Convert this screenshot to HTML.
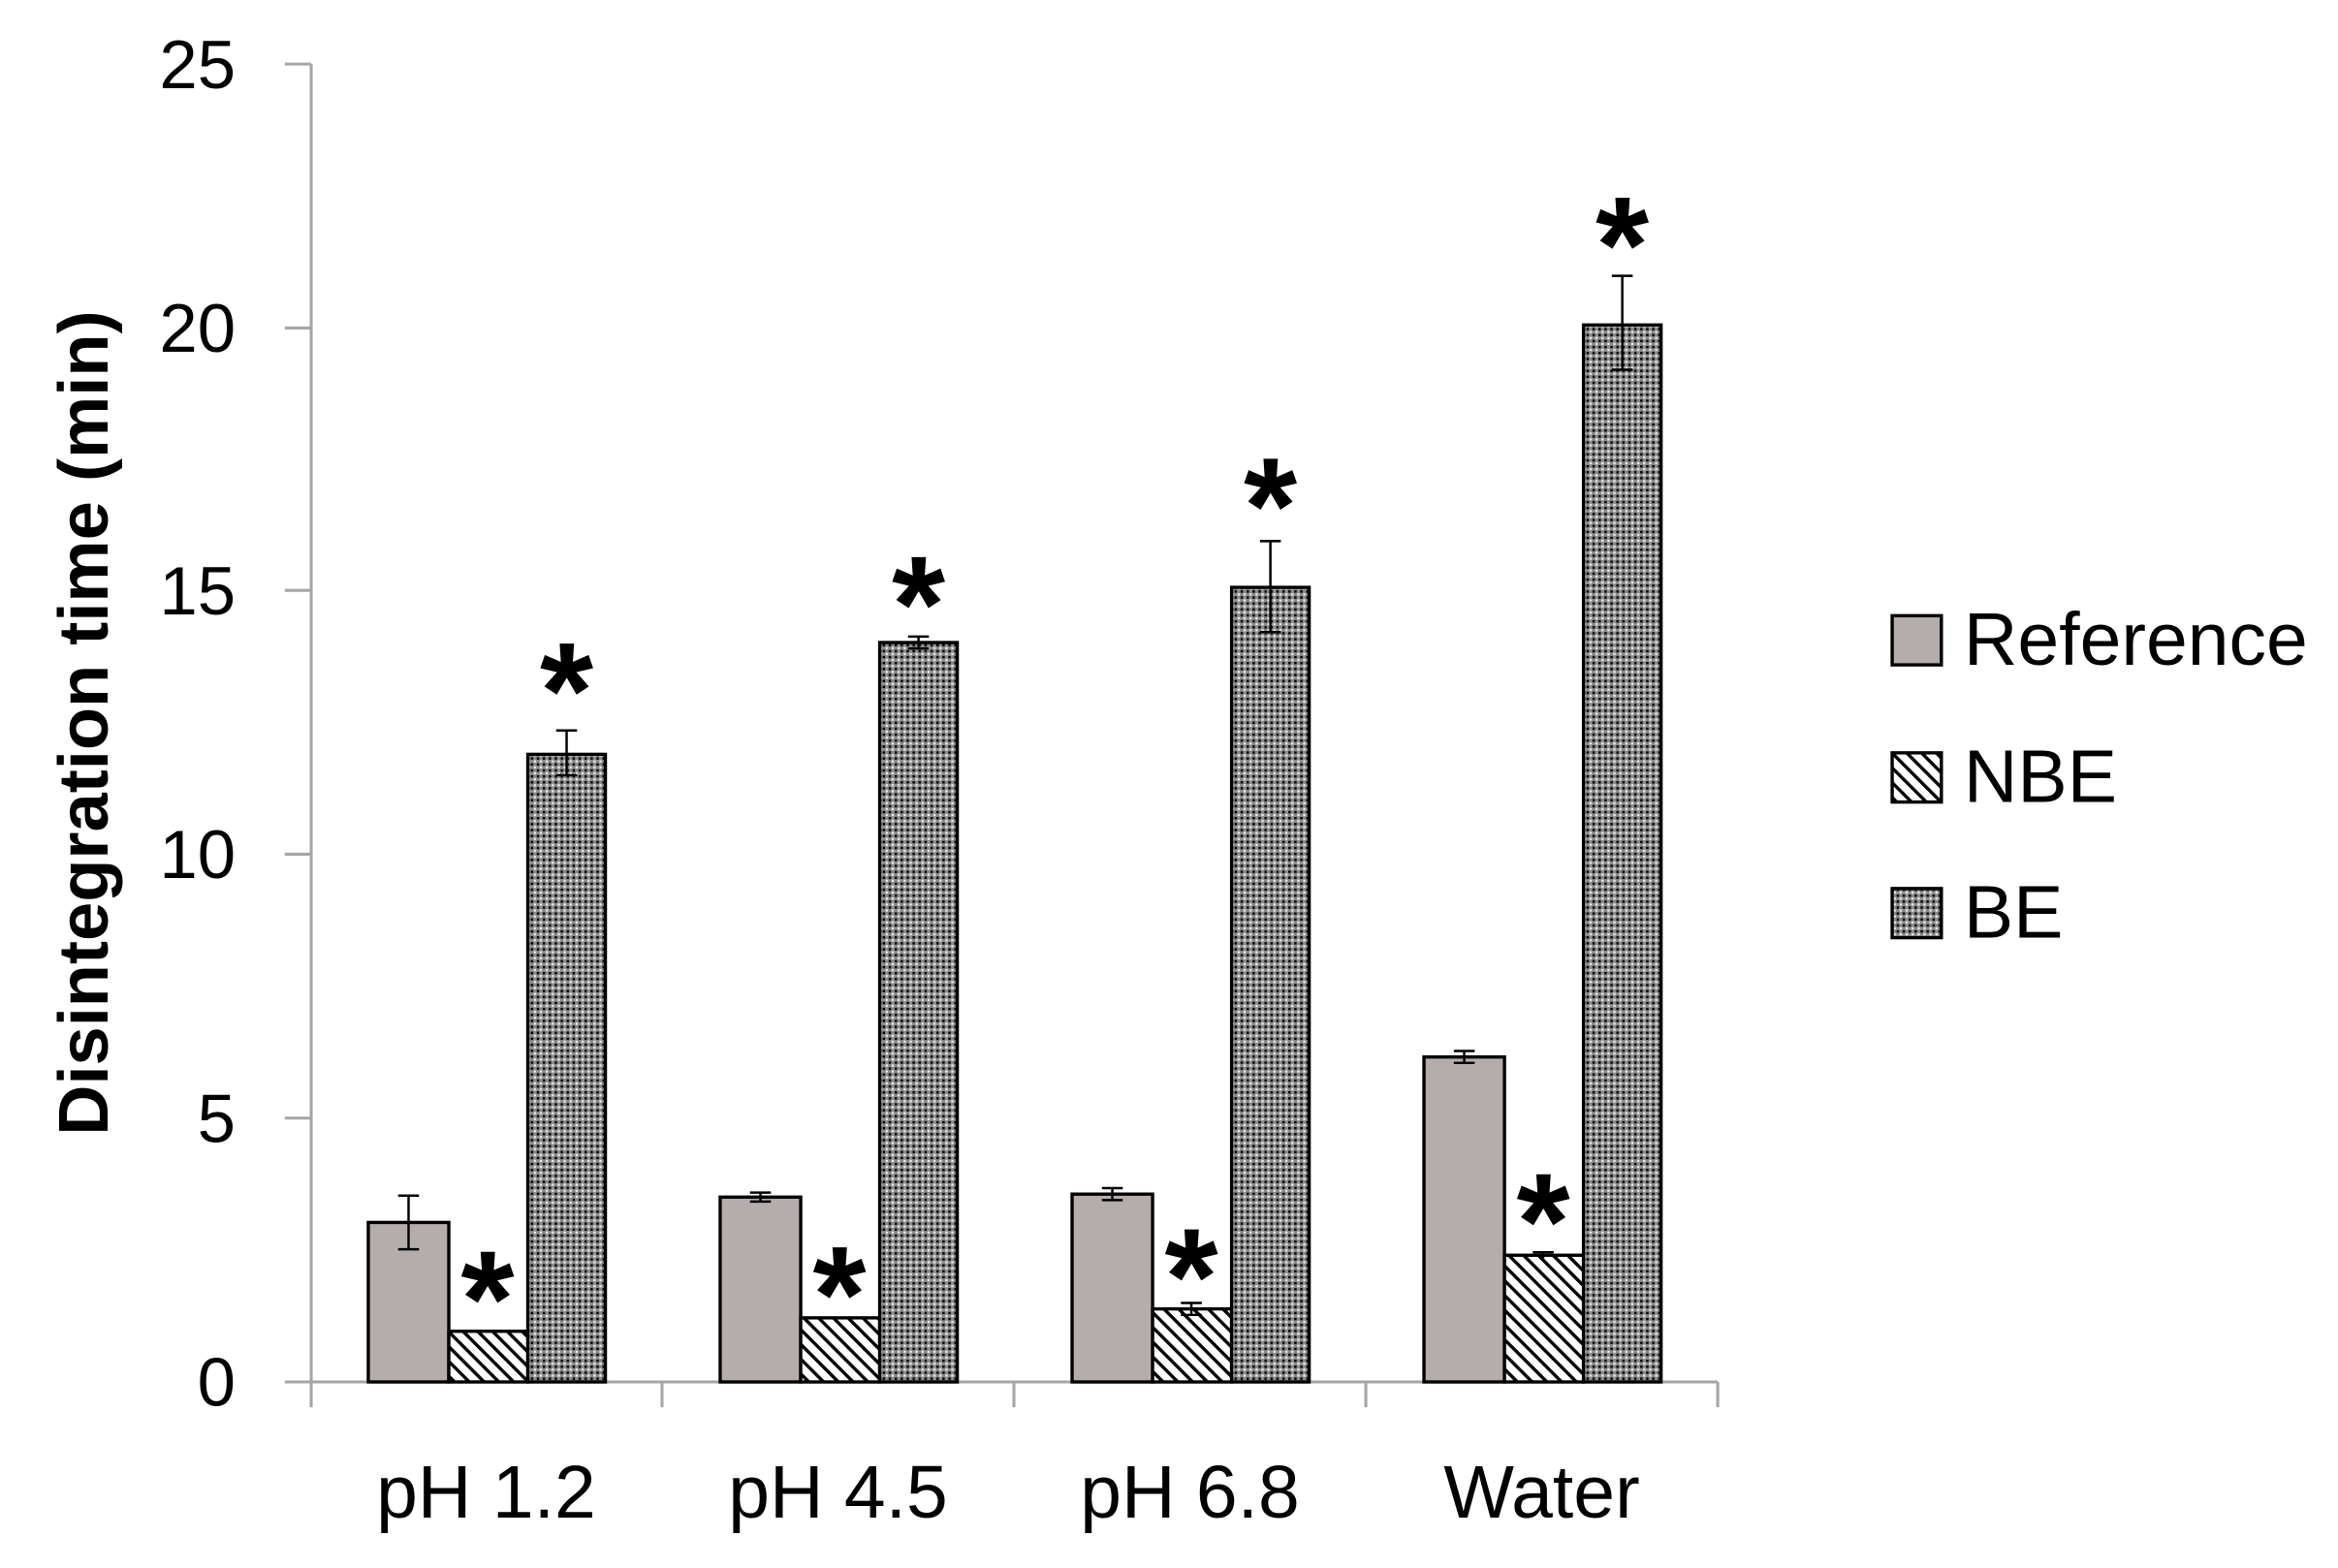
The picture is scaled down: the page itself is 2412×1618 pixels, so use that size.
<!DOCTYPE html>
<html><head><style>html,body{margin:0;padding:0;background:#fff}svg{display:block}</style></head>
<body>
<svg width="2412" height="1618" viewBox="0 0 1568 1051.8" preserveAspectRatio="none" xmlns="http://www.w3.org/2000/svg" font-family="'Liberation Sans', 'DejaVu Sans', sans-serif">
<defs>
<pattern id="hatch" width="7" height="7" patternUnits="userSpaceOnUse" patternTransform="rotate(-45)">
<rect width="7" height="7" fill="#fff"/><rect x="0" y="0" width="2.2" height="7" fill="#000"/>
</pattern>
<pattern id="dots" width="4" height="4" patternUnits="userSpaceOnUse">
<rect width="4" height="4" fill="#8a8a8a"/><rect x="0" y="0" width="1.6" height="1.6" fill="#000"/><rect x="2" y="2" width="1.5" height="1.5" fill="#eee"/>
</pattern>
</defs>
<rect width="1568" height="1052" fill="#fff"/>
<g stroke="#a6a6a6" stroke-width="2" fill="none">
<line x1="208.7" y1="43" x2="208.7" y2="927"/>
<line x1="208.7" y1="927" x2="1152" y2="927"/>
<line x1="191" y1="43" x2="208.7" y2="43"/>
<line x1="191" y1="220" x2="208.7" y2="220"/>
<line x1="191" y1="396" x2="208.7" y2="396"/>
<line x1="191" y1="573" x2="208.7" y2="573"/>
<line x1="191" y1="750" x2="208.7" y2="750"/>
<line x1="191" y1="927" x2="208.7" y2="927"/>
<line x1="208.7" y1="927" x2="208.7" y2="944"/>
<line x1="444" y1="927" x2="444" y2="944"/>
<line x1="680" y1="927" x2="680" y2="944"/>
<line x1="916" y1="927" x2="916" y2="944"/>
<line x1="1152" y1="927" x2="1152" y2="944"/>
</g>
<g font-size="46" text-anchor="end" fill="#000">
<text x="158" y="59">25</text><text x="158" y="236">20</text><text x="158" y="412">15</text>
<text x="158" y="589">10</text><text x="158" y="766">5</text><text x="158" y="943">0</text>
</g>
<text transform="translate(72,485) rotate(-90)" font-size="47" font-weight="bold" text-anchor="middle">Disintegration time (min)</text>
<g font-size="50" text-anchor="middle">
<text x="326" y="1018">pH 1.2</text><text x="562" y="1018">pH 4.5</text><text x="798" y="1018">pH 6.8</text><text x="1034" y="1018">Water</text>
</g>
<g stroke="#000" stroke-width="2.2">
<rect x="247" y="820" width="54" height="107" fill="#b3aeab"/>
<rect x="301" y="893" width="53" height="34" fill="url(#hatch)"/>
<rect x="354" y="506" width="52" height="421" fill="url(#dots)"/>
<rect x="483" y="803" width="54" height="124" fill="#b3aeab"/>
<rect x="537" y="884" width="53" height="43" fill="url(#hatch)"/>
<rect x="590" y="431" width="52" height="496" fill="url(#dots)"/>
<rect x="719" y="801" width="54" height="126" fill="#b3aeab"/>
<rect x="773" y="878" width="53" height="49" fill="url(#hatch)"/>
<rect x="826" y="394" width="52" height="533" fill="url(#dots)"/>
<rect x="955" y="709" width="54" height="218" fill="#b3aeab"/>
<rect x="1009" y="842" width="53" height="85" fill="url(#hatch)"/>
<rect x="1062" y="218" width="52" height="709" fill="url(#dots)"/>
</g>
<g stroke="#000" stroke-width="1.6" fill="none">
<path d="M274 802V838M267 802H281M267 838H281"/>
<path d="M380 490V520M373 490H387M373 520H387"/>
<path d="M510 800V806M503 800H517M503 806H517"/>
<path d="M616 427V435M609 427H623M609 435H623"/>
<path d="M746 797V805M739 797H753M739 805H753"/>
<path d="M799 874V882M792 874H806M792 882H806"/>
<path d="M852 363V424M845 363H859M845 424H859"/>
<path d="M982 705V713M975 705H989M975 713H989"/>
<path d="M1035 840V844M1028 840H1042"/>
<path d="M1088 185V248M1081 185H1095M1081 248H1095"/>
</g>
<g font-size="92" font-weight="bold" text-anchor="middle">
<text x="380" y="495">*</text><text x="327" y="903">*</text>
<text x="616" y="437">*</text><text x="563" y="900">*</text>
<text x="852" y="371">*</text><text x="799" y="888">*</text>
<text x="1088" y="196">*</text><text x="1035" y="851">*</text>
</g>
<g stroke="#000" stroke-width="2.2">
<rect x="1269" y="413" width="33" height="33" fill="#b3aeab"/>
<rect x="1269" y="505" width="33" height="33" fill="url(#hatch)"/>
<rect x="1269" y="596" width="33" height="33" fill="url(#dots)"/>
</g>
<g font-size="50">
<text x="1317" y="446">Reference</text><text x="1317" y="538">NBE</text><text x="1317" y="629">BE</text>
</g>
</svg>
</body></html>
